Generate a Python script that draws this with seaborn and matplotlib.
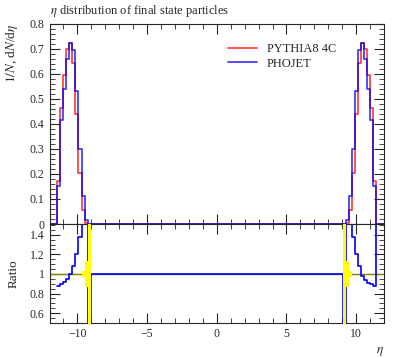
import numpy as np
import seaborn as sns
import matplotlib.pyplot as plt
from matplotlib.ticker import MultipleLocator

# eta bin edges of the two forward peaks
edges_left = [-11.46, -11.24, -11.02, -10.80, -10.58, -10.36, -10.14, -9.92, -9.70, -9.48, -9.26]
edges_right = [9.26, 9.48, 9.70, 9.92, 10.14, 10.36, 10.58, 10.80, 11.02, 11.24, 11.46]

pythia_left = [0.17, 0.465, 0.595, 0.70, 0.725, 0.645, 0.44, 0.205, 0.056, 0.006]
phojet_left = [0.15, 0.415, 0.54, 0.66, 0.725, 0.695, 0.53, 0.30, 0.11, 0.016]
pythia_right = [0.006, 0.056, 0.205, 0.44, 0.645, 0.725, 0.70, 0.595, 0.465, 0.17]
phojet_right = [0.016, 0.11, 0.30, 0.53, 0.696, 0.725, 0.66, 0.54, 0.416, 0.15]

# ratio PHOJET / PYTHIA8 (values outside 0.5-1.5 run off the panel)
ratio_edges = [-11.46, -11.24, -11.02, -10.80, -10.58, -10.36, -10.14, -9.92, -9.70, -9.48, -9.26, -9.04,
               9.04, 9.26, 9.48, 9.70, 9.92, 10.14, 10.36, 10.58, 10.80, 11.02, 11.24, 11.46, 11.68]
ratio_vals = [0.88, 0.895, 0.915, 0.95, 1.0, 1.085, 1.205, 1.38, 2.0, 2.0, 0.0,
              1.0,
              0.0, 2.0, 2.0, 1.38, 1.2, 1.085, 0.98, 0.94, 0.91, 0.9, 0.88, 2.0]

# yellow MC uncertainty band on the reference
band_left_edges = [-9.70, -9.48, -9.26, -9.04]
band_left_lo = [0.965, 0.863, 0.0]
band_left_hi = [1.035, 1.137, 2.0]
band_right_edges = [9.04, 9.26, 9.48, 9.70]
band_right_lo = [0.0, 0.863, 0.97]
band_right_hi = [2.0, 1.137, 1.03]

sns.set_style("ticks")
plt.rcParams["font.family"] = ["Liberation Serif", "DejaVu Serif"]
plt.rcParams["mathtext.fontset"] = "stix"
plt.rcParams["xtick.direction"] = "in"
plt.rcParams["ytick.direction"] = "in"

fig = plt.figure(figsize=(3.97, 3.58), dpi=100)
ax = fig.add_axes([0.1247, 0.3743, 0.8426, 0.5587])
rax = fig.add_axes([0.1247, 0.0978, 0.8426, 0.2765], sharex=ax)

# full histograms including the empty central region
full_edges = [-12.0] + edges_left + edges_right + [12.0]
py_vals = [0.0] + pythia_left + [0.0] + pythia_right + [0.0]
ph_vals = [0.0] + phojet_left + [0.0] + phojet_right + [0.0]
centers = [(a + b) / 2 for a, b in zip(full_edges[:-1], full_edges[1:])]

sns.histplot(x=centers, weights=py_vals, bins=full_edges, element="step", fill=False,
             color="#ff0000", alpha=0.8, linewidth=1.2, ax=ax, label="PYTHIA8 4C")
sns.histplot(x=centers, weights=ph_vals, bins=full_edges, element="step", fill=False,
             color="#0000ff", alpha=0.75, linewidth=1.3, ax=ax, label="PHOJET")

ax.set_xlim(-12, 12)
ax.set_ylim(0, 0.8)
ax.set_ylabel(r"$1/N$, d$N$/d$\eta$", loc="top", fontsize=9.5, labelpad=7)
ax.set_xlabel("")
ax.set_title(r"$\eta$ distribution of final state particles", loc="left", fontsize=9, pad=7)
ax.legend(loc="upper left", bbox_to_anchor=(0.50, 0.96), frameon=False, fontsize=9,
          handlelength=2.3, handletextpad=0.8, labelspacing=0.2)
ax.yaxis.set_major_locator(MultipleLocator(0.1))
ax.yaxis.set_minor_locator(MultipleLocator(0.02))
ax.set_yticks(np.arange(0, 0.81, 0.1))
ax.set_yticklabels(["0", "0.1", "0.2", "0.3", "0.4", "0.5", "0.6", "0.7", "0.8"])
ax.tick_params(labelbottom=False)

# ratio panel
rax.axhline(1, color="#7f7f00", linewidth=1.0, zorder=1)
rcent = [(a + b) / 2 for a, b in zip(ratio_edges[:-1], ratio_edges[1:])]
sns.histplot(x=rcent, weights=ratio_vals, bins=ratio_edges, element="step", fill=False,
             color="#0000ff", linewidth=1.2, ax=rax, zorder=2)
rax.fill_between(band_left_edges, band_left_lo + [band_left_lo[-1]], band_left_hi + [band_left_hi[-1]],
                 step="post", color="#ffff00", linewidth=0, zorder=3)
rax.fill_between(band_right_edges, band_right_lo + [band_right_lo[-1]], band_right_hi + [band_right_hi[-1]],
                 step="post", color="#ffff00", linewidth=0, zorder=3)
rax.set_ylim(0.5, 1.51)
rax.set_xlim(-12, 12)
rax.set_ylabel("Ratio", fontsize=9.5, labelpad=7)
rax.set_xlabel(r"$\eta$", loc="right", fontsize=9.5)
rax.set_yticks([0.6, 0.8, 1.0, 1.2, 1.4])
rax.set_yticklabels(["0.6", "0.8", "1", "1.2", "1.4"])
rax.yaxis.set_minor_locator(MultipleLocator(0.05))

for a in (ax, rax):
    a.xaxis.set_major_locator(MultipleLocator(5))
    a.xaxis.set_minor_locator(MultipleLocator(1))
    a.tick_params(which="both", top=True, right=True, labelsize=8.5)
    a.tick_params(which="major", length=7, width=0.8)
    a.tick_params(which="minor", length=3.5, width=0.6)
    for s in a.spines.values():
        s.set_linewidth(0.8)

fig.savefig("out.png", dpi=100)
